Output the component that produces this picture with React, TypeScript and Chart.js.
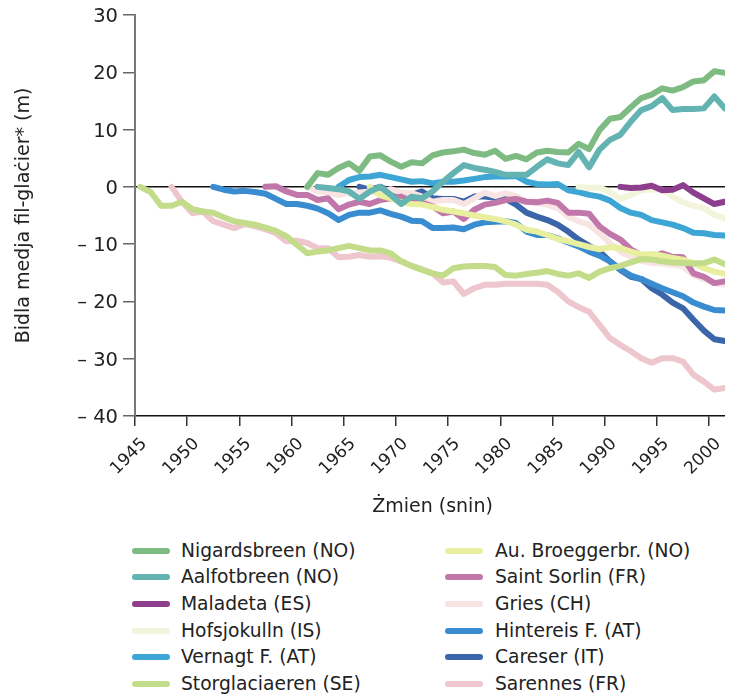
import React, { useEffect, useRef } from "react";
import { Chart, registerables } from "chart.js";

Chart.register(...registerables);

const years = [
  "1945", "1946", "1947", "1948", "1949", "1950", "1951", "1952", "1953", "1954",
  "1955", "1956", "1957", "1958", "1959", "1960", "1961", "1962", "1963", "1964",
  "1965", "1966", "1967", "1968", "1969", "1970", "1971", "1972", "1973", "1974",
  "1975", "1976", "1977", "1978", "1979", "1980", "1981", "1982", "1983", "1984",
  "1985", "1986", "1987", "1988", "1989", "1990", "1991", "1992", "1993", "1994",
  "1995", "1996", "1997", "1998", "1999", "2000", "2001",
];

const yTicks = [30, 20, 10, 0, -10, -20, -30, -40];

// each series: first year of record, then yearly cumulative values (m)
const nigardsbreenStart = 1961;
const nigardsbreen = [0, 2.4, 2.1, 3.3, 4.1, 2.8, 5.3, 5.5, 4.4, 3.5, 4.3, 4.1, 5.5, 6.0, 6.2, 6.5, 5.9, 5.6, 6.3, 4.9, 5.4, 4.8, 6.0, 6.3, 6.1, 6.0, 7.5, 6.6, 9.9, 11.9, 12.2, 13.9, 15.5, 16.1, 17.2, 16.8, 17.4, 18.4, 18.6, 20.2, 19.9];

const aalfotbreenStart = 1962;
const aalfotbreen = [0, -0.2, -0.4, -0.8, -2.1, -0.8, 0, -1.4, -3.0, -1.7, -2.0, -0.8, 0.9, 2.4, 3.8, 3.3, 3.0, 2.6, 2.1, 2.1, 2.1, 3.5, 4.8, 4.1, 3.8, 6.1, 3.4, 6.5, 8.2, 9.1, 11.4, 13.4, 14.1, 15.5, 13.4, 13.6, 13.6, 13.7, 15.8, 13.7];

const maladetaStart = 1991;
const maladeta = [0, -0.2, -0.1, 0.2, -0.6, -0.5, 0.3, -1.0, -2.0, -3.0, -2.6];

const hofsjokullnStart = 1987;
const hofsjokulln = [0, -0.2, -0.1, -0.9, -2.1, -1.4, -0.6, -0.4, -0.5, -1.7, -2.7, -3.3, -3.7, -4.9, -5.5];

const vernagtStart = 1964;
const vernagt = [0, 1.2, 1.7, 1.8, 2.1, 1.7, 1.3, 0.9, 1.0, 0.6, 0.9, 0.9, 1.1, 1.4, 1.7, 1.8, 1.8, 1.9, 0.9, 0.5, 0.4, 0.5, -0.6, -0.9, -1.4, -1.7, -2.4, -3.7, -4.5, -4.9, -5.8, -6.2, -6.6, -7.2, -8.0, -8.1, -8.4, -8.5];

const storglaciaerenStart = 1945;
const storglaciaeren = [0, -0.9, -3.3, -3.3, -2.6, -3.9, -4.3, -4.5, -5.3, -6.0, -6.3, -6.6, -7.1, -7.7, -8.6, -10.1, -11.6, -11.3, -11.1, -10.7, -10.3, -10.7, -11.1, -11.1, -11.6, -13.0, -13.8, -14.5, -15.1, -15.5, -14.2, -13.9, -13.8, -13.8, -14.0, -15.4, -15.5, -15.2, -15.0, -14.7, -15.2, -15.5, -15.1, -15.9, -14.8, -14.2, -13.8, -13.2, -12.6, -12.7, -13.0, -13.2, -13.3, -13.4, -13.3, -12.7, -13.5];

const broeggerStart = 1967;
const broegger = [0, -1.5, -2.0, -2.7, -3.0, -3.1, -3.5, -4.0, -4.3, -4.6, -5.0, -5.3, -5.6, -6.0, -6.6, -7.5, -7.8, -8.4, -9.1, -9.5, -10.0, -10.5, -10.9, -10.5, -10.7, -11.3, -11.8, -11.7, -12.0, -12.4, -12.7, -13.3, -14.2, -14.8, -15.2];

const saintSorlinStart = 1957;
const saintSorlin = [0, 0.1, -0.8, -1.4, -1.4, -2.3, -2.0, -3.9, -3.1, -2.6, -3.0, -2.3, -2.0, -1.7, -2.6, -2.8, -3.4, -4.6, -4.3, -5.6, -4.0, -3.1, -2.8, -2.3, -2.1, -2.6, -2.7, -2.4, -2.8, -4.5, -4.5, -4.7, -6.9, -8.2, -9.2, -10.9, -11.9, -12.2, -11.6, -12.2, -12.3, -15.1, -15.7, -16.8, -16.5];

const griesStart = 1961;
const gries = [0, -0.8, -0.9, -1.4, -1.1, -1.0, -0.8, -1.1, -0.4, -1.0, -1.1, -1.7, -2.6, -2.3, -2.3, -3.0, -2.0, -1.0, -1.6, -1.1, -1.6, -2.6, -2.8, -3.1, -3.7, -5.2, -6.0, -6.6, -8.1, -9.8, -11.3, -12.2, -12.9, -13.3, -13.4, -13.6, -13.9, -15.4, -16.1, -16.8, -17.1];

const hintereisStart = 1952;
const hintereis = [0, -0.5, -0.8, -0.7, -0.9, -1.2, -2.1, -3.0, -3.0, -3.3, -3.8, -4.6, -5.8, -4.9, -4.5, -4.5, -4.1, -4.7, -5.2, -5.9, -6.0, -7.2, -7.2, -7.1, -7.4, -6.6, -6.2, -6.1, -6.0, -6.3, -7.8, -8.4, -8.4, -9.0, -9.7, -10.4, -11.3, -12.0, -13.0, -14.4, -15.5, -16.1, -16.9, -17.7, -18.4, -19.1, -20.2, -20.9, -21.5, -21.6];

const careserStart = 1966;
const careser = [0, -0.5, 0, -0.8, -1.1, -1.4, -0.8, -2.0, -2.1, -2.1, -2.6, -1.7, -1.7, -1.9, -2.1, -3.1, -4.5, -5.2, -5.8, -6.6, -7.8, -9.2, -10.3, -11.3, -13.0, -14.5, -15.7, -16.1, -17.7, -18.8, -20.2, -21.2, -23.2, -25.1, -26.6, -26.9];

const sarennesStart = 1948;
const sarennes = [0, -2.6, -4.6, -4.3, -6.0, -6.6, -7.2, -6.5, -6.9, -7.4, -8.1, -9.5, -9.4, -9.8, -10.7, -10.7, -12.3, -12.2, -11.9, -12.2, -12.1, -12.4, -13.0, -13.8, -14.4, -15.1, -16.7, -16.5, -18.7, -17.7, -17.1, -17.1, -16.9, -16.9, -16.9, -16.9, -17.1, -18.3, -20.0, -21.0, -21.8, -24.1, -26.4, -27.6, -28.7, -29.9, -30.7, -29.9, -29.9, -30.5, -32.8, -34.0, -35.4, -35.1];

const seriesNames = [
  "Nigardsbreen (NO)", "Aalfotbreen (NO)", "Maladeta (ES)", "Hofsjokulln (IS)",
  "Vernagt F. (AT)", "Storglaciaeren (SE)", "Au. Broeggerbr. (NO)", "Saint Sorlin (FR)",
  "Gries (CH)", "Hintereis F. (AT)", "Careser (IT)", "Sarennes (FR)",
];
const seriesStarts = [
  nigardsbreenStart, aalfotbreenStart, maladetaStart, hofsjokullnStart,
  vernagtStart, storglaciaerenStart, broeggerStart, saintSorlinStart,
  griesStart, hintereisStart, careserStart, sarennesStart,
];
const seriesValues = [
  nigardsbreen, aalfotbreen, maladeta, hofsjokulln,
  vernagt, storglaciaeren, broegger, saintSorlin,
  gries, hintereis, careser, sarennes,
];
const seriesColors = [
  "#7dbb82", "#62b3b1", "#8d3e8c", "#f3f4dc",
  "#3ea6d4", "#c3dc8a", "#e8f0a0", "#c177aa",
  "#f7e4e3", "#3a8cd0", "#3a65a8", "#eec6ce",
];

const FONT = "'DejaVu Sans', Verdana, sans-serif";

function padSeries(start: number, values: number[]) {
  const lead: (number | null)[] = [];
  for (let y = Number(years[0]); y < start; y++) lead.push(null);
  return lead.concat(values);
}

export default function App() {
  const ref = useRef<HTMLCanvasElement | null>(null);

  useEffect(() => {
    if (!ref.current) return;
    const chart = new Chart(ref.current, {
      type: "line",
      data: {
        labels: years,
        datasets: seriesNames.map((name, i) => ({
          label: name,
          data: padSeries(seriesStarts[i], seriesValues[i]),
          borderColor: seriesColors[i],
          backgroundColor: seriesColors[i],
          borderWidth: 6,
          pointRadius: 0,
          tension: 0,
          borderCapStyle: "round",
          borderJoinStyle: "round",
          fill: false,
        })),
      },
      options: {
        responsive: false,
        animation: false,
        devicePixelRatio: 1,
        layout: { padding: { top: 7, right: 3, left: 0, bottom: 0 } },
        plugins: {
          legend: { display: false },
          tooltip: { enabled: false },
        },
        scales: {
          x: {
            type: "category",
            offset: true,
            grid: {
              offset: true,
              drawOnChartArea: false,
              tickLength: 10,
              lineWidth: 1.5,
              tickColor: (ctx: any) => (ctx.index % 5 === 0 ? "#333" : "transparent"),
            },
            border: { color: "#111", width: 1.5 },
            ticks: {
              autoSkip: false,
              minRotation: 45,
              maxRotation: 45,
              padding: 8,
              labelOffset: 4,
              color: "#222",
              font: { family: FONT, size: 17 },
              callback: (_v: any, i: number) => (Number(years[i]) % 5 === 0 ? years[i] : ""),
            },
            title: {
              display: true,
              text: "Żmien (snin)",
              color: "#222",
              font: { family: FONT, size: 19 },
              padding: { top: 4, bottom: 6 },
            },
            afterFit: (s: any) => {
              s.height = 108;
              s.paddingLeft = 0;
              s.paddingRight = 0;
            },
          },
          y: {
            type: "linear",
            min: yTicks[yTicks.length - 1],
            max: yTicks[0],
            afterBuildTicks: (s: any) => {
              s.ticks = yTicks.map((v) => ({ value: v }));
            },
            grid: {
              color: (ctx: any) => (ctx.tick && ctx.tick.value === 0 ? "#111" : "transparent"),
              lineWidth: 1.5,
              tickColor: "#666",
              tickLength: 12,
            },
            border: { color: "#777", width: 2 },
            ticks: {
              padding: 5,
              labelOffset: 2,
              color: "#222",
              font: { family: FONT, size: 19.5 },
              callback: (v: any) => (Number(v) < 0 ? "– " + Math.abs(Number(v)) : String(v)),
            },
            title: {
              display: true,
              text: "Bidla medja fil-glaċier* (m)",
              color: "#222",
              font: { family: FONT, size: 19 },
              padding: { top: 5, bottom: 4 },
            },
            afterFit: (s: any) => {
              s.width = 127;
              s.paddingTop = 0;
              s.paddingBottom = 0;
            },
          },
        },
      },
    });
    return () => chart.destroy();
  }, []);

  const rowTop = 542.7;
  const rowGap = 26.6;

  return (
    <div style={{ position: "relative", width: 725, height: 686 }}>
      <canvas ref={ref} width={725} height={516} style={{ display: "block" }} />
      {seriesNames.map((name, i) => {
        const col = i < 6 ? 0 : 1;
        const row = i % 6;
        const cy = rowTop + row * rowGap;
        const swatchX = col === 0 ? 124 : 437;
        const textX = col === 0 ? 173 : 487;
        return (
          <React.Fragment key={name}>
            <div
              style={{
                position: "absolute",
                left: swatchX,
                top: cy - 3,
                width: 38,
                height: 6,
                borderRadius: 3,
                background: seriesColors[i],
              }}
            />
            <div
              style={{
                position: "absolute",
                left: textX,
                top: cy - 10,
                height: 20,
                lineHeight: "20px",
                fontFamily: FONT,
                fontSize: 18.7,
                color: "#222",
                whiteSpace: "nowrap",
              }}
            >
              {name}
            </div>
          </React.Fragment>
        );
      })}
    </div>
  );
}
